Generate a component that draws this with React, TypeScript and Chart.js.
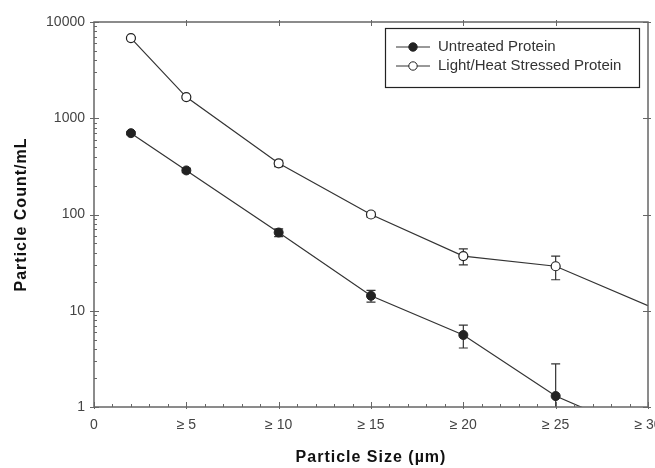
import React, { useEffect, useRef } from "react";
import { Chart, registerables } from "chart.js";

Chart.register(...registerables);

const sizes = [2, 5, 10, 15, 20, 25, 30];
const untreated = [700, 287, 65, 14.3, 5.6, 1.3, 0.5];
const untreatedErr = [25, 15, 6, 2, 1.5, 1.5, 0];
const stressed = [6800, 1660, 340, 100, 37, 29, 11.3];
const stressedErr = [150, 60, 25, 6, 7, 8, 0];
const xTickValues = [0, 5, 10, 15, 20, 25, 30];
const xTickLabels = ["0", "\u2265 5", "\u2265 10", "\u2265 15", "\u2265 20", "\u2265 25", "\u2265 30"];
const yTickValues = [1, 10, 100, 1000, 10000];
const seriesNames = ["Untreated Protein", "Light/Heat Stressed Protein"];

const AXIS = "#666";
const LINE = "#333";

const decorPlugin = {
  id: "decor",
  beforeDatasetsDraw(chart: any) {
    const { ctx, chartArea: a, scales } = chart;
    const xs = scales.x;
    const ys = scales.y;
    const errs = [untreatedErr, stressedErr];
    ctx.save();
    ctx.beginPath();
    ctx.rect(a.left, a.top, a.right - a.left, a.bottom - a.top);
    ctx.clip();
    ctx.strokeStyle = LINE;
    ctx.lineWidth = 1.2;
    chart.data.datasets.forEach((ds: any, di: number) => {
      ds.data.forEach((p: any, i: number) => {
        const e = errs[di][i];
        if (!e) return;
        const x = xs.getPixelForValue(p.x);
        const hiV = p.y + e;
        const loV = p.y - e;
        const yHi = ys.getPixelForValue(hiV);
        const yLo = loV > 0 ? ys.getPixelForValue(loV) : a.bottom + 20;
        ctx.beginPath();
        ctx.moveTo(x, yHi);
        ctx.lineTo(x, yLo);
        ctx.moveTo(x - 4.5, yHi);
        ctx.lineTo(x + 4.5, yHi);
        if (loV > 0) {
          ctx.moveTo(x - 4.5, yLo);
          ctx.lineTo(x + 4.5, yLo);
        }
        ctx.stroke();
      });
    });
    ctx.restore();
  },
  afterDraw(chart: any) {
    const { ctx, chartArea: a, scales } = chart;
    const xs = scales.x;
    const ys = scales.y;
    ctx.save();
    ctx.strokeStyle = AXIS;
    ctx.lineWidth = 1.5;
    ctx.strokeRect(a.left, a.top, a.right - a.left, a.bottom - a.top);
    ctx.lineWidth = 1;
    ctx.beginPath();
    for (let v = 0; v <= 30; v++) {
      const x = Math.round(xs.getPixelForValue(v)) + 0.5;
      const major = v % 5 === 0;
      ctx.moveTo(x, a.bottom + (major ? 2 : 0));
      ctx.lineTo(x, a.bottom - (major ? 5 : 3));
      if (major && v > 0 && v < 30) {
        ctx.moveTo(x, a.top - 2);
        ctx.lineTo(x, a.top + 4);
      }
    }
    for (let d = 1; d <= 10000; d *= 10) {
      for (let m = 1; m <= 9; m++) {
        const v = d * m;
        if (v > 10000) break;
        const y = Math.round(ys.getPixelForValue(v)) + 0.5;
        if (m === 1) {
          ctx.moveTo(a.left - 4, y);
          ctx.lineTo(a.left + 5, y);
          ctx.moveTo(a.right - 5, y);
          ctx.lineTo(a.right + 3, y);
        } else {
          ctx.moveTo(a.left, y);
          ctx.lineTo(a.left + 3, y);
        }
      }
    }
    ctx.stroke();

    ctx.fillStyle = "#111";
    ctx.font = "bold 16px 'Liberation Sans', Arial, sans-serif";
    (ctx as any).letterSpacing = "1px";
    ctx.textAlign = "center";
    ctx.textBaseline = "middle";
    ctx.fillText("Particle Size (\u00b5m)", (a.left + a.right) / 2, 458);
    ctx.save();
    ctx.translate(22, (a.top + a.bottom) / 2);
    ctx.rotate(-Math.PI / 2);
    ctx.fillText("Particle Count/mL", 0, 0);
    ctx.restore();

    (ctx as any).letterSpacing = "0px";
    const lx = 385, ly = 28, lw = 254, lh = 59;
    ctx.fillStyle = "#fff";
    ctx.fillRect(lx, ly, lw, lh);
    ctx.strokeStyle = "#222";
    ctx.lineWidth = 1.2;
    ctx.strokeRect(lx + 0.5, ly + 0.5, lw, lh);
    const rows = [47, 66];
    chart.data.datasets.forEach((ds: any, i: number) => {
      const y = rows[i];
      ctx.strokeStyle = LINE;
      ctx.lineWidth = 1;
      ctx.beginPath();
      ctx.moveTo(396, y);
      ctx.lineTo(430, y);
      ctx.stroke();
      ctx.beginPath();
      ctx.arc(413, y, 4.2, 0, Math.PI * 2);
      ctx.fillStyle = ds.pointBackgroundColor;
      ctx.fill();
      ctx.strokeStyle = "#222";
      ctx.stroke();
      ctx.fillStyle = "#333";
      ctx.font = "15px 'Liberation Sans', Arial, sans-serif";
      ctx.textAlign = "left";
      ctx.textBaseline = "middle";
      ctx.fillText(ds.label, 438, y);
    });
    ctx.restore();
  },
};

export default function App() {
  const ref = useRef<HTMLCanvasElement>(null);
  useEffect(() => {
    document.body.style.margin = "0";
    const canvas = ref.current!;
    const chart = new Chart(canvas, {
      type: "line",
      data: {
        datasets: [
          {
            label: seriesNames[0],
            data: sizes.map((x, i) => ({ x, y: untreated[i] })),
            borderColor: LINE,
            borderWidth: 1.2,
            pointBackgroundColor: "#222",
            pointBorderColor: "#222",
            pointRadius: sizes.map((_, i) => (i === sizes.length - 1 ? 0 : 4.5)),
            pointBorderWidth: 1,
            tension: 0,
          },
          {
            label: seriesNames[1],
            data: sizes.map((x, i) => ({ x, y: stressed[i] })),
            borderColor: LINE,
            borderWidth: 1.2,
            pointBackgroundColor: "#fff",
            pointBorderColor: "#222",
            pointRadius: sizes.map((_, i) => (i === sizes.length - 1 ? 0 : 4.5)),
            pointBorderWidth: 1.2,
            tension: 0,
          },
        ],
      },
      options: {
        animation: false,
        responsive: false,
        maintainAspectRatio: false,
        layout: { padding: { left: 0, top: 22, right: 7, bottom: 0 } },
        plugins: { legend: { display: false }, tooltip: { enabled: false } },
        scales: {
          x: {
            type: "linear",
            min: 0,
            max: 30,
            grid: { display: false, drawTicks: false },
            border: { display: false },
            afterBuildTicks: (s: any) => {
              s.ticks = xTickValues.map((v) => ({ value: v }));
            },
            afterFit: (s: any) => {
              s.height = 61;
              s.paddingLeft = 0;
              s.paddingRight = 0;
            },
            ticks: {
              autoSkip: false,
              maxRotation: 0,
              minRotation: 0,
              padding: 10,
              color: "#444",
              font: { family: "'Liberation Sans', Arial, sans-serif", size: 14 },
              callback: (v: any) => {
                const i = xTickValues.indexOf(Number(v));
                return i >= 0 ? xTickLabels[i] : "";
              },
            },
          },
          y: {
            type: "logarithmic",
            min: 1,
            max: 10000,
            grid: { display: false, drawTicks: false },
            border: { display: false },
            afterBuildTicks: (s: any) => {
              s.ticks = yTickValues.map((v) => ({ value: v }));
            },
            afterFit: (s: any) => {
              s.width = 94;
              s.paddingTop = 0;
              s.paddingBottom = 0;
            },
            ticks: {
              autoSkip: false,
              padding: 9,
              color: "#444",
              font: { family: "'Liberation Sans', Arial, sans-serif", size: 14 },
              callback: (v: any) => String(v),
            },
          },
        },
      },
      plugins: [decorPlugin],
    });
    return () => chart.destroy();
  }, []);
  return (
    <div style={{ width: 655, height: 468, background: "#fff" }}>
      <canvas ref={ref} width={655} height={468} style={{ display: "block" }} />
    </div>
  );
}
